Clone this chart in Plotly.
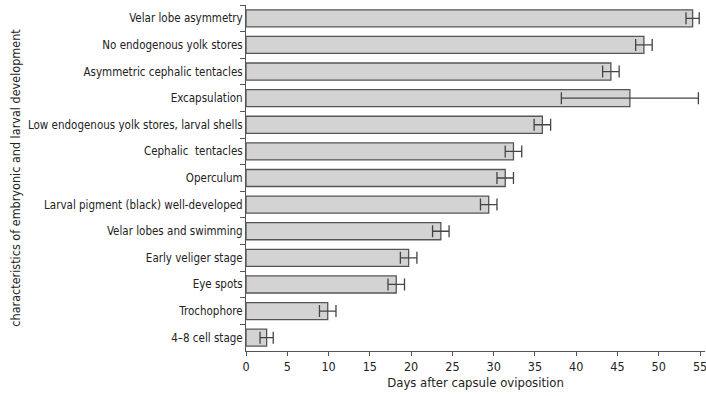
import plotly.graph_objects as go

stages = [
    "Velar lobe asymmetry",
    "No endogenous yolk stores",
    "Asymmetric cephalic tentacles",
    "Excapsulation",
    "Low endogenous yolk stores, larval shells",
    "Cephalic\u00a0 tentacles",
    "Operculum",
    "Larval pigment (black) well-developed",
    "Velar lobes and swimming",
    "Early veliger stage",
    "Eye spots",
    "Trochophore",
    "4\u20138 cell stage",
]
days = [54.1, 48.2, 44.2, 46.5, 35.9, 32.4, 31.4, 29.4, 23.6, 19.7, 18.2, 9.9, 2.5]
errors = [0.8, 1.0, 1.0, 8.3, 1.0, 1.0, 1.0, 1.0, 1.0, 1.0, 1.0, 1.0, 0.8]
x_ticks = [0, 5, 10, 15, 20, 25, 30, 35, 40, 45, 50, 55]

FONT = "DejaVu Sans Condensed, Liberation Sans Narrow, Roboto, sans-serif"

fig = go.Figure(go.Bar(
    x=days, y=stages, orientation="h",
    marker=dict(color="#d3d3d3", line=dict(color="#555555", width=1.3)),
    error_x=dict(type="data", array=errors, visible=True, color="#444444",
                 thickness=1.3, width=6),
    width=0.64,
    hoverinfo="skip",
))

fig.update_layout(
    width=706, height=396,
    margin=dict(l=246, r=1, t=5, b=45, autoexpand=False),
    paper_bgcolor="white", plot_bgcolor="white",
    font=dict(family=FONT, size=12, color="#222222"),
    showlegend=False,
)
fig.update_xaxes(
    range=[0, 55.6], tickvals=x_ticks, ticks="outside", ticklen=4,
    tickcolor="#555555", showline=True, linecolor="#555555", linewidth=1,
    showgrid=False, zeroline=False, automargin=False,
    ticklabeloverflow="allow",
    title=dict(text="Days after capsule oviposition", standoff=4,
               font=dict(size=13)),
    tickfont=dict(size=12.5),
)
fig.update_yaxes(
    autorange="reversed", ticks="outside", ticklen=5, tickson="boundaries",
    tickcolor="#555555", showline=True, linecolor="#555555", linewidth=1,
    showgrid=False, automargin=False,
    title=dict(text="characteristics of embryonic and larval development",
               font=dict(size=12.5), standoff=4),
    tickfont=dict(size=11.5),
)

fig.write_html(
    "out.html",
    config={"displayModeBar": False},
    post_script="document.body.style.margin='0';document.body.style.padding='0';window.dispatchEvent(new Event('resize'));",
)
